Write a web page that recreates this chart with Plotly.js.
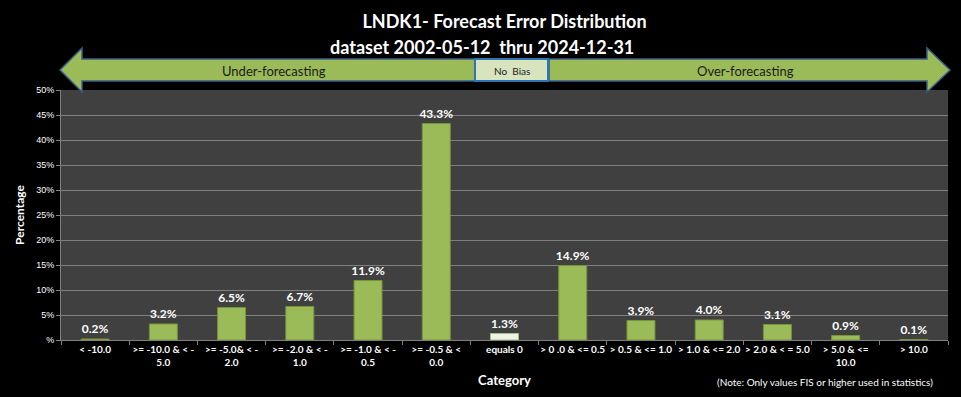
<!DOCTYPE html>
<html>
<head>
<meta charset="utf-8">
<script src="https://cdn.plot.ly/plotly-3.0.1.min.js"></script>
<style>html,body{margin:0;padding:0;background:#000;}#chart{width:961px;height:397px;}</style>
</head>
<body>
<div id="chart"></div>
<script>
const categories = [
  "< -10.0", ">= -10.0 & < -<br>5.0", ">= -5.0& < -<br>2.0", ">= -2.0 & < -<br>1.0",
  ">= -1.0 & < -<br>0.5", ">= -0.5 & <<br>0.0", "equals 0", "> 0 .0 & <= 0.5",
  "> 0.5 & <= 1.0", "> 1.0 & <= 2.0", "> 2.0 & < = 5.0", "> 5.0 & <=<br>10.0", "> 10.0"
];
const percentages = [0.2, 3.2, 6.5, 6.7, 11.9, 43.3, 1.3, 14.9, 3.9, 4.0, 3.1, 0.9, 0.1];
const yTickVals = [0, 5, 10, 15, 20, 25, 30, 35, 40, 45, 50];
const yTickText = ["%", "5%", "10%", "15%", "20%", "25%", "30%", "35%", "40%", "45%", "50%"];
const titleLine1 = "LNDK1- Forecast Error Distribution";
const titleLine2 = "dataset 2002-05-12  thru 2024-12-31";

const barColors = categories.map(c => c === "equals 0" ? "#EEF3E4" : "#9BBB59");
const lineColors = categories.map(c => c === "equals 0" ? "#A9BF85" : "#76933C");

const FONT = "Lato, 'Open Sans', sans-serif";

const trace = {
  type: "bar",
  x: categories,
  y: percentages,
  marker: {color: barColors, line: {color: lineColors, width: 1}},
  text: percentages.map(v => v.toFixed(1) + "%"),
  textposition: "outside",
  constraintext: "none",
  cliponaxis: false,
  textfont: {color: "#FFFFFF", size: 12, family: FONT, weight: "bold"},
  hoverinfo: "x+y"
};

// paper-coordinate helpers (plot area: x 61..948 px, y 340..90 px)
function px(x) { return (x - 61) / 887; }
function py(y) { return (340 - y) / 250; }
function path(pts) { return "M" + pts.map(p => px(p[0]).toFixed(4) + "," + py(p[1]).toFixed(4)).join(" L") + " Z"; }

const leftArrow = path([[60,70],[82,48],[82,59],[475,59],[475,81],[82,81],[82,92]]);
const rightArrow = path([[950,70],[927,48],[927,59],[549,59],[549,81],[927,81],[927,92]]);

const layout = {
  width: 961, height: 397,
  paper_bgcolor: "#000000",
  plot_bgcolor: "#404040",
  margin: {l: 61, r: 13, t: 90, b: 57},
  bargap: 0.59,
  showlegend: false,
  title: {text: titleLine1, font: {family: FONT, size: 18, color: "#FFFFFF", weight: "bold"},
          x: 0.5, xref: "paper", y: 1 - 22/397, yanchor: "middle"},
  xaxis: {
    type: "category",
    tickson: "boundaries",
    ticks: "outside", ticklen: 4, tickcolor: "#808080",
    showline: true, linecolor: "#808080", linewidth: 1,
    showgrid: false,
    tickfont: {family: FONT, size: 10, color: "#FFFFFF", weight: "bold"},
    tickangle: 0,
    title: {text: "Category", font: {family: FONT, size: 13, color: "#FFFFFF", weight: "bold"}, standoff: 8},
    fixedrange: true
  },
  yaxis: {
    range: [0, 50],
    tickvals: yTickVals, ticktext: yTickText,
    ticks: "outside", ticklen: 4, tickcolor: "#808080",
    showline: true, linecolor: "#808080", linewidth: 1,
    showgrid: true, gridcolor: "#7F7F7F", gridwidth: 1,
    zeroline: false,
    tickfont: {family: "'Liberation Sans', Arial, sans-serif", size: 9, color: "#FFFFFF"},
    title: {text: "Percentage", font: {family: FONT, size: 12, color: "#FFFFFF", weight: "bold"}, standoff: 8},
    fixedrange: true
  },
  shapes: [
    {type: "path", xref: "paper", yref: "paper", path: leftArrow, fillcolor: "#9BBB59", line: {color: "#385D8A", width: 1.5}, layer: "above"},
    {type: "path", xref: "paper", yref: "paper", path: rightArrow, fillcolor: "#9BBB59", line: {color: "#385D8A", width: 1.5}, layer: "above"},
    {type: "rect", xref: "paper", yref: "paper", x0: px(475), x1: px(548), y0: py(81), y1: py(59), fillcolor: "#D7E4BD", line: {color: "#2E75B6", width: 2}, layer: "above"}
  ],
  annotations: [
    {text: titleLine2, xref: "paper", yref: "paper", x: px(482), y: py(47), showarrow: false,
     font: {family: FONT, size: 18, color: "#FFFFFF", weight: "bold"}, xanchor: "center", yanchor: "middle"},
    {text: "Under-forecasting", xref: "paper", yref: "paper", x: px(274), y: py(71), showarrow: false,
     font: {family: FONT, size: 13, color: "#1A1A1A"}, xanchor: "center", yanchor: "middle"},
    {text: "No  Bias", xref: "paper", yref: "paper", x: px(511.5), y: py(71), showarrow: false,
     font: {family: FONT, size: 10, color: "#1A1A1A"}, xanchor: "center", yanchor: "middle"},
    {text: "Over-forecasting", xref: "paper", yref: "paper", x: px(745), y: py(71), showarrow: false,
     font: {family: FONT, size: 13, color: "#1A1A1A"}, xanchor: "center", yanchor: "middle"},
    {text: "(Note: Only values FIS or higher used in statistics)", xref: "paper", yref: "paper", x: px(825), y: py(382), showarrow: false,
     font: {family: FONT, size: 10, color: "#FFFFFF"}, xanchor: "center", yanchor: "middle"}
  ]
};

Plotly.newPlot("chart", [trace], layout, {displayModeBar: false, responsive: false});
</script>
</body>
</html>
